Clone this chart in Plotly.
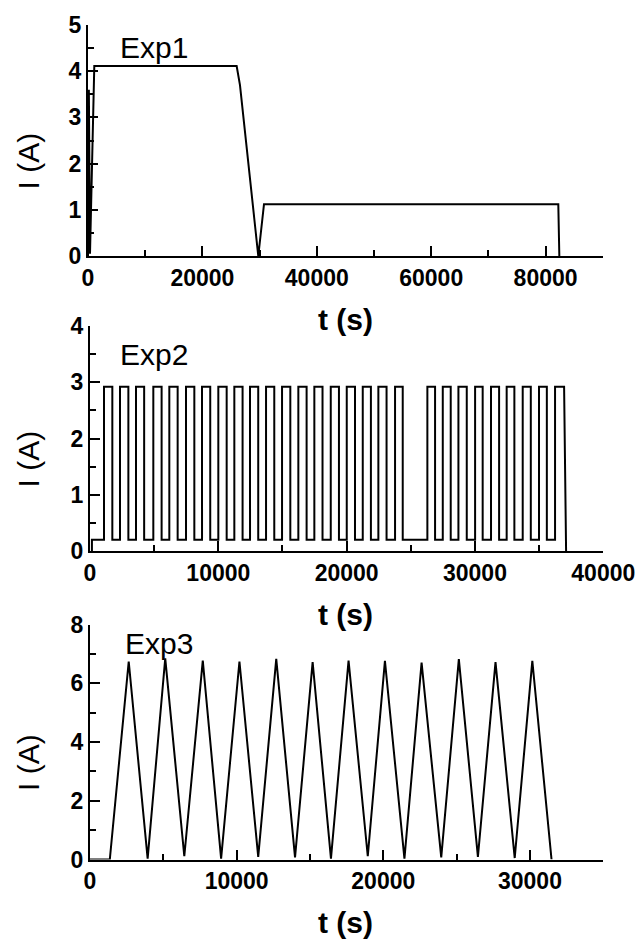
import plotly.graph_objects as go

# ---- Exp1: single charge/discharge profile ----
t_exp1 = [0, 150, 350, 1100, 25990, 26570, 29770, 30770, 82220, 82400]
i_exp1 = [0, 3.6, 0.05, 4.11, 4.11, 3.70, 0.0, 1.12, 1.12, 0.0]

# ---- Exp2: square-wave pulses (edge times in s) ----
exp2_start = 150
exp2_rises = [1091, 2338, 3585, 4934, 6181, 7482, 8730, 10000, 11247, 12471,
              13718, 14965, 16235, 17482, 18761, 20008, 21255, 22471, 23772,
              26290, 27490, 28710, 30010, 31250, 32470, 33720, 34990, 36240]
exp2_falls = [1740, 2990, 4220, 5580, 6830, 8130, 9370, 10650, 11890, 13110,
              14360, 15610, 16880, 18120, 19400, 20650, 21890, 23110, 24370,
              26890, 28110, 29360, 30600, 31880, 33070, 34350, 35600, 36945]
exp2_end = 37100
i_exp2_high = 2.92
i_exp2_low = 0.2

# ---- Exp3: triangular current cycles ----
t_exp3 = [0, 1350, 2640, 3930, 5130, 6430, 7690, 8940, 10190, 11470, 12700,
          13980, 15180, 16430, 17630, 18940, 20110, 21440, 22610, 23950,
          25150, 26450, 27650, 28960, 30160, 31470]
i_exp3 = [0, 0, 6.74, 0.03, 6.85, 0.11, 6.77, 0.03, 6.74, 0.09, 6.83, 0.07,
          6.72, 0.03, 6.77, 0.11, 6.76, 0.03, 6.70, 0.07, 6.82, 0.09, 6.72,
          0.05, 6.76, 0]

# square wave polyline from the edge lists
t_exp2 = [exp2_start, exp2_start]
i_exp2 = [0, i_exp2_low]
for r, f in zip(exp2_rises, exp2_falls):
    t_exp2 += [r, r, f]
    i_exp2 += [i_exp2_low, i_exp2_high, i_exp2_high]
    if f != exp2_falls[-1]:
        t_exp2.append(f)
        i_exp2.append(i_exp2_low)
t_exp2.append(exp2_end)
i_exp2.append(0)

W, H = 639, 940
FONT = "Liberation Sans, Arial, sans-serif"


def px(x):
    return x / W


def py(y):
    return 1 - y / H


panels = [
    # (t, i, x-domain px, y-domain px (bottom, top), xmax, ymax, xdtick, xminor, ydtick, yminor, label)
    (t_exp1, i_exp1, (88, 602.8), (256, 25), 90000, 5, 20000, 10000, 1, 0.5, "Exp1"),
    (t_exp2, i_exp2, (90, 603.3), (551, 326), 40000, 4, 10000, 5000, 1, 0.5, "Exp2"),
    (t_exp3, i_exp3, (90, 603.3), (859.5, 624.5), 35000, 8, 10000, 5000, 2, 1, "Exp3"),
]

fig = go.Figure()
layout = dict(
    width=W, height=H,
    margin=dict(l=0, r=0, t=0, b=0),
    paper_bgcolor="white", plot_bgcolor="white",
    showlegend=False,
    font=dict(family=FONT, color="black"),
    annotations=[],
)

label_pos = [(118, 47), (118, 355), (123, 643)]

for k, (t, i, xd, yd, xmax, ymax, xdt, xmn, ydt, ymn, lab) in enumerate(panels):
    n = "" if k == 0 else str(k + 1)
    fig.add_trace(go.Scatter(
        x=t, y=i, mode="lines", xaxis="x" + n, yaxis="y" + n,
        line=dict(color="black", width=2), hoverinfo="skip",
    ))
    axis_common = dict(
        showline=True, linecolor="black", linewidth=2,
        showgrid=False, zeroline=False, automargin=False,
        ticks="inside", ticklen=10, tickwidth=2, tickcolor="black",
        tickfont=dict(family=FONT, size=23, color="black", weight="bold"),
        tickformat="d", fixedrange=True,
    )
    layout["xaxis" + n] = dict(
        axis_common, domain=[px(xd[0]), px(xd[1])], range=[0, xmax],
        dtick=xdt, tick0=0, anchor="y" + n,
        minor=dict(dtick=xmn, tick0=0, ticks="inside", ticklen=6,
                   tickwidth=2, tickcolor="black", showgrid=False),
    )
    layout["yaxis" + n] = dict(
        axis_common, domain=[py(yd[0]), py(yd[1])], range=[0, ymax],
        dtick=ydt, tick0=0, anchor="x" + n,
        minor=dict(dtick=ymn, tick0=0, ticks="inside", ticklen=6,
                   tickwidth=2, tickcolor="black", showgrid=False),
    )
    # panel label
    lx, ly = label_pos[k]
    layout["annotations"].append(dict(
        text=lab, x=px(lx), y=py(ly), xref="paper", yref="paper",
        xanchor="left", yanchor="middle", showarrow=False,
        font=dict(family=FONT, size=30, color="black"),
    ))
    # axis titles
    layout["annotations"].append(dict(
        text="<b>t (s)</b>", x=px(345), y=py(yd[0] + 63), xref="paper", yref="paper",
        xanchor="center", yanchor="middle", showarrow=False,
        font=dict(family=FONT, size=30, color="black"),
    ))
    layout["annotations"].append(dict(
        text="I (A)", x=px(28), y=py((yd[0] + yd[1]) / 2 + 21), xref="paper", yref="paper",
        xanchor="center", yanchor="middle", showarrow=False, textangle=-90,
        font=dict(family=FONT, size=30, color="black"),
    ))

fig.update_layout(**layout)
fig.write_html("out.html")
